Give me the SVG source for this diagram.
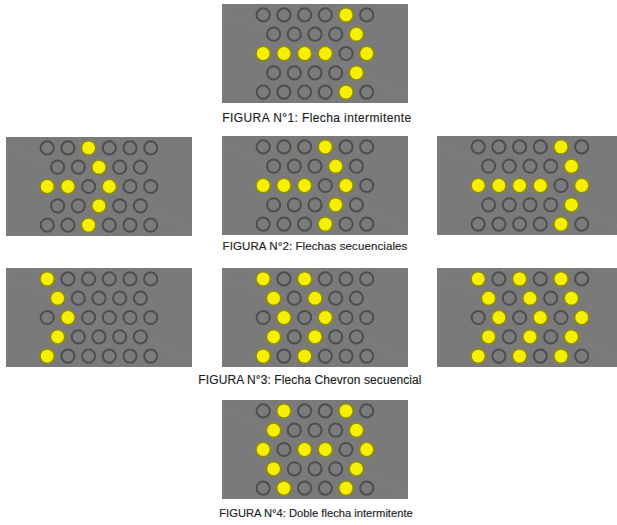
<svg xmlns="http://www.w3.org/2000/svg" xmlns:xlink="http://www.w3.org/1999/xlink" width="617" height="525" viewBox="0 0 617 525">
  <style>
    .panel { fill: #7a7a7a; }
    .streak { stroke: #8a8a8a; stroke-width: 1; opacity: 0.45; fill: none; }
    .off { fill: #7b7b7b; stroke: #4e4e52; stroke-width: 2; }
    .on { fill: #f6f000; stroke: #8e8a14; stroke-width: 1.6; }
    .cap { font-family: "Liberation Sans", Arial, sans-serif; font-size: 12px; letter-spacing: 0.4px; fill: #1e1e1e; stroke: #1e1e1e; stroke-width: 0.15; text-anchor: middle; }
    .cap2 { font-size: 11.5px; letter-spacing: 0.1px; }
    .cap3 { font-size: 12px; letter-spacing: 0.1px; }
    .cap4 { font-size: 11.2px; letter-spacing: 0; }
  </style>
  <defs>
    <circle id="o" r="6.6" class="off"/>
    <circle id="y" r="7.2" class="on"/>
    <!-- LED board background: grey plate with a faint reflection streak -->
    <g id="plate">
      <rect class="panel" x="0" y="0" width="186" height="99"/>
      <line class="streak" x1="0" y1="8" x2="186" y2="92"/>
    </g>
  </defs>
  <rect width="617" height="525" fill="#ffffff"/>

  <!-- Figure 1: blinking arrow -->
  <g id="fig1" transform="translate(222,4)">
    <use href="#plate"/>
    <use href="#o" x="41.2" y="10.9"/><use href="#o" x="61.9" y="10.9"/><use href="#o" x="82.6" y="10.9"/><use href="#o" x="103.3" y="10.9"/><use href="#y" x="124" y="10.9"/><use href="#o" x="144.7" y="10.9"/>
    <use href="#o" x="51.6" y="30.2"/><use href="#o" x="72.3" y="30.2"/><use href="#o" x="93" y="30.2"/><use href="#o" x="113.7" y="30.2"/><use href="#y" x="134.4" y="30.2"/>
    <use href="#y" x="41.2" y="49.5"/><use href="#y" x="61.9" y="49.5"/><use href="#y" x="82.6" y="49.5"/><use href="#y" x="103.3" y="49.5"/><use href="#o" x="124" y="49.5"/><use href="#y" x="144.7" y="49.5"/>
    <use href="#o" x="51.6" y="68.8"/><use href="#o" x="72.3" y="68.8"/><use href="#o" x="93" y="68.8"/><use href="#o" x="113.7" y="68.8"/><use href="#y" x="134.4" y="68.8"/>
    <use href="#o" x="41.2" y="88.1"/><use href="#o" x="61.9" y="88.1"/><use href="#o" x="82.6" y="88.1"/><use href="#o" x="103.3" y="88.1"/><use href="#y" x="124" y="88.1"/><use href="#o" x="144.7" y="88.1"/>
  </g>
  <text class="cap" x="317" y="122">FIGURA N°1: Flecha intermitente</text>

  <!-- Figure 2: sequential arrows, step 1 -->
  <g id="fig2a" transform="translate(6,137)">
    <use href="#plate"/>
    <use href="#o" x="41.2" y="10.9"/><use href="#o" x="61.9" y="10.9"/><use href="#y" x="82.6" y="10.9"/><use href="#o" x="103.3" y="10.9"/><use href="#o" x="124" y="10.9"/><use href="#o" x="144.7" y="10.9"/>
    <use href="#o" x="51.6" y="30.2"/><use href="#o" x="72.3" y="30.2"/><use href="#y" x="93" y="30.2"/><use href="#o" x="113.7" y="30.2"/><use href="#o" x="134.4" y="30.2"/>
    <use href="#y" x="41.2" y="49.5"/><use href="#y" x="61.9" y="49.5"/><use href="#o" x="82.6" y="49.5"/><use href="#y" x="103.3" y="49.5"/><use href="#o" x="124" y="49.5"/><use href="#o" x="144.7" y="49.5"/>
    <use href="#o" x="51.6" y="68.8"/><use href="#o" x="72.3" y="68.8"/><use href="#y" x="93" y="68.8"/><use href="#o" x="113.7" y="68.8"/><use href="#o" x="134.4" y="68.8"/>
    <use href="#o" x="41.2" y="88.1"/><use href="#o" x="61.9" y="88.1"/><use href="#y" x="82.6" y="88.1"/><use href="#o" x="103.3" y="88.1"/><use href="#o" x="124" y="88.1"/><use href="#o" x="144.7" y="88.1"/>
  </g>

  <!-- Figure 2: sequential arrows, step 2 -->
  <g id="fig2b" transform="translate(222,136)">
    <use href="#plate"/>
    <use href="#o" x="41.2" y="10.9"/><use href="#o" x="61.9" y="10.9"/><use href="#o" x="82.6" y="10.9"/><use href="#y" x="103.3" y="10.9"/><use href="#o" x="124" y="10.9"/><use href="#o" x="144.7" y="10.9"/>
    <use href="#o" x="51.6" y="30.2"/><use href="#o" x="72.3" y="30.2"/><use href="#o" x="93" y="30.2"/><use href="#y" x="113.7" y="30.2"/><use href="#o" x="134.4" y="30.2"/>
    <use href="#y" x="41.2" y="49.5"/><use href="#y" x="61.9" y="49.5"/><use href="#y" x="82.6" y="49.5"/><use href="#o" x="103.3" y="49.5"/><use href="#y" x="124" y="49.5"/><use href="#o" x="144.7" y="49.5"/>
    <use href="#o" x="51.6" y="68.8"/><use href="#o" x="72.3" y="68.8"/><use href="#o" x="93" y="68.8"/><use href="#y" x="113.7" y="68.8"/><use href="#o" x="134.4" y="68.8"/>
    <use href="#o" x="41.2" y="88.1"/><use href="#o" x="61.9" y="88.1"/><use href="#o" x="82.6" y="88.1"/><use href="#y" x="103.3" y="88.1"/><use href="#o" x="124" y="88.1"/><use href="#o" x="144.7" y="88.1"/>
  </g>

  <!-- Figure 2: sequential arrows, step 3 -->
  <g id="fig2c" transform="translate(437,136)">
    <use href="#plate"/>
    <use href="#o" x="41.2" y="10.9"/><use href="#o" x="61.9" y="10.9"/><use href="#o" x="82.6" y="10.9"/><use href="#o" x="103.3" y="10.9"/><use href="#y" x="124" y="10.9"/><use href="#o" x="144.7" y="10.9"/>
    <use href="#o" x="51.6" y="30.2"/><use href="#o" x="72.3" y="30.2"/><use href="#o" x="93" y="30.2"/><use href="#o" x="113.7" y="30.2"/><use href="#y" x="134.4" y="30.2"/>
    <use href="#y" x="41.2" y="49.5"/><use href="#y" x="61.9" y="49.5"/><use href="#y" x="82.6" y="49.5"/><use href="#y" x="103.3" y="49.5"/><use href="#o" x="124" y="49.5"/><use href="#y" x="144.7" y="49.5"/>
    <use href="#o" x="51.6" y="68.8"/><use href="#o" x="72.3" y="68.8"/><use href="#o" x="93" y="68.8"/><use href="#o" x="113.7" y="68.8"/><use href="#y" x="134.4" y="68.8"/>
    <use href="#o" x="41.2" y="88.1"/><use href="#o" x="61.9" y="88.1"/><use href="#o" x="82.6" y="88.1"/><use href="#o" x="103.3" y="88.1"/><use href="#y" x="124" y="88.1"/><use href="#o" x="144.7" y="88.1"/>
  </g>
  <text class="cap cap2" x="315" y="250">FIGURA N°2: Flechas secuenciales</text>

  <!-- Figure 3: sequential chevron, step 1 -->
  <g id="fig3a" transform="translate(6,268)">
    <use href="#plate"/>
    <use href="#y" x="41.2" y="10.9"/><use href="#o" x="61.9" y="10.9"/><use href="#o" x="82.6" y="10.9"/><use href="#o" x="103.3" y="10.9"/><use href="#o" x="124" y="10.9"/><use href="#o" x="144.7" y="10.9"/>
    <use href="#y" x="51.6" y="30.2"/><use href="#o" x="72.3" y="30.2"/><use href="#o" x="93" y="30.2"/><use href="#o" x="113.7" y="30.2"/><use href="#o" x="134.4" y="30.2"/>
    <use href="#o" x="41.2" y="49.5"/><use href="#y" x="61.9" y="49.5"/><use href="#o" x="82.6" y="49.5"/><use href="#o" x="103.3" y="49.5"/><use href="#o" x="124" y="49.5"/><use href="#o" x="144.7" y="49.5"/>
    <use href="#y" x="51.6" y="68.8"/><use href="#o" x="72.3" y="68.8"/><use href="#o" x="93" y="68.8"/><use href="#o" x="113.7" y="68.8"/><use href="#o" x="134.4" y="68.8"/>
    <use href="#y" x="41.2" y="88.1"/><use href="#o" x="61.9" y="88.1"/><use href="#o" x="82.6" y="88.1"/><use href="#o" x="103.3" y="88.1"/><use href="#o" x="124" y="88.1"/><use href="#o" x="144.7" y="88.1"/>
  </g>

  <!-- Figure 3: sequential chevron, step 2 -->
  <g id="fig3b" transform="translate(222,268)">
    <use href="#plate"/>
    <use href="#y" x="41.2" y="10.9"/><use href="#o" x="61.9" y="10.9"/><use href="#y" x="82.6" y="10.9"/><use href="#o" x="103.3" y="10.9"/><use href="#o" x="124" y="10.9"/><use href="#o" x="144.7" y="10.9"/>
    <use href="#y" x="51.6" y="30.2"/><use href="#o" x="72.3" y="30.2"/><use href="#y" x="93" y="30.2"/><use href="#o" x="113.7" y="30.2"/><use href="#o" x="134.4" y="30.2"/>
    <use href="#o" x="41.2" y="49.5"/><use href="#y" x="61.9" y="49.5"/><use href="#o" x="82.6" y="49.5"/><use href="#y" x="103.3" y="49.5"/><use href="#o" x="124" y="49.5"/><use href="#o" x="144.7" y="49.5"/>
    <use href="#y" x="51.6" y="68.8"/><use href="#o" x="72.3" y="68.8"/><use href="#y" x="93" y="68.8"/><use href="#o" x="113.7" y="68.8"/><use href="#o" x="134.4" y="68.8"/>
    <use href="#y" x="41.2" y="88.1"/><use href="#o" x="61.9" y="88.1"/><use href="#y" x="82.6" y="88.1"/><use href="#o" x="103.3" y="88.1"/><use href="#o" x="124" y="88.1"/><use href="#o" x="144.7" y="88.1"/>
  </g>

  <!-- Figure 3: sequential chevron, step 3 -->
  <g id="fig3c" transform="translate(437,268)">
    <use href="#plate"/>
    <use href="#y" x="41.2" y="10.9"/><use href="#o" x="61.9" y="10.9"/><use href="#y" x="82.6" y="10.9"/><use href="#o" x="103.3" y="10.9"/><use href="#y" x="124" y="10.9"/><use href="#o" x="144.7" y="10.9"/>
    <use href="#y" x="51.6" y="30.2"/><use href="#o" x="72.3" y="30.2"/><use href="#y" x="93" y="30.2"/><use href="#o" x="113.7" y="30.2"/><use href="#y" x="134.4" y="30.2"/>
    <use href="#o" x="41.2" y="49.5"/><use href="#y" x="61.9" y="49.5"/><use href="#o" x="82.6" y="49.5"/><use href="#y" x="103.3" y="49.5"/><use href="#o" x="124" y="49.5"/><use href="#y" x="144.7" y="49.5"/>
    <use href="#y" x="51.6" y="68.8"/><use href="#o" x="72.3" y="68.8"/><use href="#y" x="93" y="68.8"/><use href="#o" x="113.7" y="68.8"/><use href="#y" x="134.4" y="68.8"/>
    <use href="#y" x="41.2" y="88.1"/><use href="#o" x="61.9" y="88.1"/><use href="#y" x="82.6" y="88.1"/><use href="#o" x="103.3" y="88.1"/><use href="#y" x="124" y="88.1"/><use href="#o" x="144.7" y="88.1"/>
  </g>
  <text class="cap cap3" x="310" y="384">FIGURA N°3: Flecha Chevron secuencial</text>

  <!-- Figure 4: blinking double arrow -->
  <g id="fig4" transform="translate(222,400)">
    <use href="#plate"/>
    <use href="#o" x="41.2" y="10.9"/><use href="#y" x="61.9" y="10.9"/><use href="#o" x="82.6" y="10.9"/><use href="#o" x="103.3" y="10.9"/><use href="#y" x="124" y="10.9"/><use href="#o" x="144.7" y="10.9"/>
    <use href="#y" x="51.6" y="30.2"/><use href="#o" x="72.3" y="30.2"/><use href="#o" x="93" y="30.2"/><use href="#o" x="113.7" y="30.2"/><use href="#y" x="134.4" y="30.2"/>
    <use href="#y" x="41.2" y="49.5"/><use href="#o" x="61.9" y="49.5"/><use href="#y" x="82.6" y="49.5"/><use href="#y" x="103.3" y="49.5"/><use href="#o" x="124" y="49.5"/><use href="#y" x="144.7" y="49.5"/>
    <use href="#y" x="51.6" y="68.8"/><use href="#o" x="72.3" y="68.8"/><use href="#o" x="93" y="68.8"/><use href="#o" x="113.7" y="68.8"/><use href="#y" x="134.4" y="68.8"/>
    <use href="#o" x="41.2" y="88.1"/><use href="#y" x="61.9" y="88.1"/><use href="#o" x="82.6" y="88.1"/><use href="#o" x="103.3" y="88.1"/><use href="#y" x="124" y="88.1"/><use href="#o" x="144.7" y="88.1"/>
  </g>
  <text class="cap cap4" x="316" y="517">FIGURA N°4: Doble flecha intermitente</text>
</svg>
